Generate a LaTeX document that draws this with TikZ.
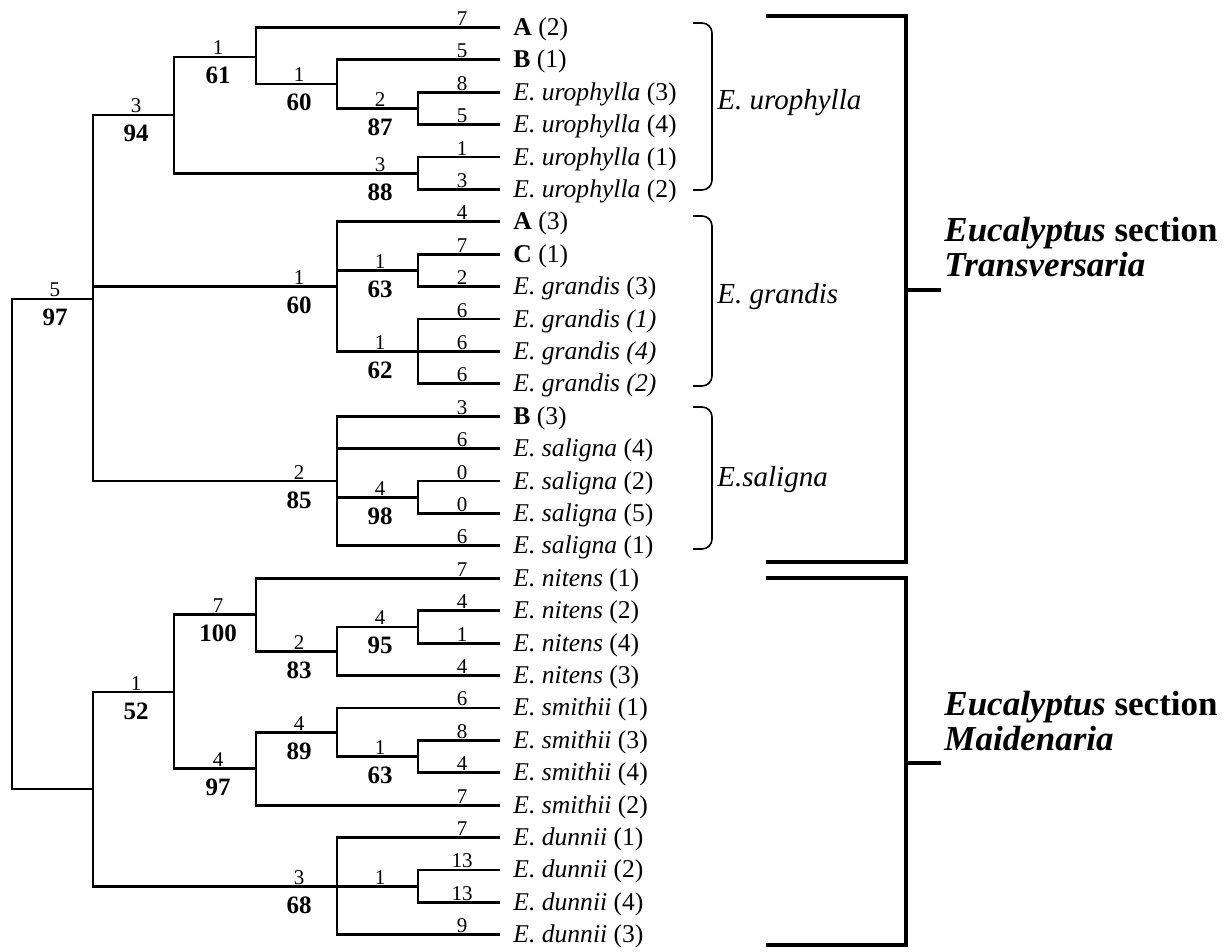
\documentclass[tikz,border=0pt]{standalone}
\usepackage{fontspec}
\setmainfont{Liberation Serif}
\usetikzlibrary{calc}
\tikzset{
  tree/.style    = {line width=1.4pt},
  leaf/.style    = {anchor=base west,inner sep=0pt,
                    font=\fontsize{12.8}{15}\selectfont},
  brlen/.style   = {anchor=base,inner sep=0pt,
                    font=\fontsize{10.5}{12}\selectfont},
  boot/.style    = {anchor=base,inner sep=0pt,
                    font=\fontsize{12.5}{14}\selectfont\bfseries},
  grp/.style     = {line width=0.8pt,rounded corners=5pt},
  grplbl/.style  = {anchor=base west,inner sep=0pt,
                    font=\fontsize{14.5}{17}\selectfont\itshape},
  sect/.style    = {line width=2pt},
  sectlbl/.style = {anchor=base west,align=left,inner sep=1.5pt,
                    font=\fontsize{17.5}{17.5}\selectfont\bfseries},
}
% branch from #1 to #2, length #3 above, bootstrap #4 below
\newcommand{\branch}[4]{%
  \draw[tree] (#1) |- (#2);
  \node[brlen] (#2-len) at ($(#2)+(-38,-2)$) {#3};
  \node[boot]  (#2-bs)  at ($(#2)+(-38,27)$) {#4};
}

\begin{document}
\begin{tikzpicture}[x=0.5pt,y=-0.5pt]
  \useasboundingbox (0,0) rectangle (1228,952);

  % Leaves
  \foreach \i/\txt in {
      0/\textbf{A} (2), 1/\textbf{B} (1),
      2/\textit{E. urophylla} (3), 3/\textit{E. urophylla} (4),
      4/\textit{E. urophylla} (1), 5/\textit{E. urophylla} (2),
      6/\textbf{A} (3), 7/\textbf{C} (1),
      8/\textit{E. grandis} (3), 9/\textit{E. grandis (1)},
      10/\textit{E. grandis (4)}, 11/\textit{E. grandis (2)},
      12/\textbf{B} (3), 13/\textit{E. saligna} (4),
      14/\textit{E. saligna} (2), 15/\textit{E. saligna} (5),
      16/\textit{E. saligna} (1), 17/\textit{E. nitens} (1),
      18/\textit{E. nitens} (2), 19/\textit{E. nitens} (4),
      20/\textit{E. nitens} (3), 21/\textit{E. smithii} (1),
      22/\textit{E. smithii} (3), 23/\textit{E. smithii} (4),
      24/\textit{E. smithii} (2), 25/\textit{E. dunnii} (1),
      26/\textit{E. dunnii} (2), 27/\textit{E. dunnii} (4),
      28/\textit{E. dunnii} (3)}
  {
    \coordinate (t\i) at (500,{27.5+32.4*\i});
    \node[leaf] (l\i) at ($(t\i)+(13,8)$) {\txt};
  }

  % Internal nodes
  \coordinate (root) at (12,544);
  \coordinate (ct)   at (93,299);
  \coordinate (cm)   at (93,789);
  \coordinate (c94)  at (174,115);
  \coordinate (c61)  at (256,57);
  \coordinate (c60a) at (337,84);
  \coordinate (c87)  at (418,108.5);
  \coordinate (c88)  at (418,173.3);
  \coordinate (c60b) at (337,286.7);
  \coordinate (c63a) at (418,270.5);
  \coordinate (c62)  at (418,351.5);
  \coordinate (c85)  at (337,481.1);
  \coordinate (c98)  at (418,497.3);
  \coordinate (c52)  at (174,692);
  \coordinate (c100) at (256,614.8);
  \coordinate (c83)  at (337,651.2);
  \coordinate (c95)  at (418,626.9);
  \coordinate (c97)  at (256,768.6);
  \coordinate (c89)  at (337,732.1);
  \coordinate (c63b) at (418,756.5);
  \coordinate (c68)  at (337,886.1);
  \coordinate (c13)  at (418,886.1);

  % Transversaria part
  \branch{root}{ct}{5}{97}
  \branch{ct}{c94}{3}{94}
  \branch{ct}{c60b}{1}{60}
  \branch{ct}{c85}{2}{85}
  \branch{c94}{c61}{1}{61}
  \branch{c94}{c88}{3}{88}
  \branch{c61}{t0}{7}{}
  \branch{c61}{c60a}{1}{60}
  \branch{c60a}{t1}{5}{}
  \branch{c60a}{c87}{2}{87}
  \branch{c87}{t2}{8}{}
  \branch{c87}{t3}{5}{}
  \branch{c88}{t4}{1}{}
  \branch{c88}{t5}{3}{}
  \branch{c60b}{t6}{4}{}
  \branch{c60b}{c63a}{1}{63}
  \branch{c60b}{c62}{1}{62}
  \branch{c63a}{t7}{7}{}
  \branch{c63a}{t8}{2}{}
  \branch{c62}{t9}{6}{}
  \branch{c62}{t10}{6}{}
  \branch{c62}{t11}{6}{}
  \branch{c85}{t12}{3}{}
  \branch{c85}{t13}{6}{}
  \branch{c85}{c98}{4}{98}
  \branch{c85}{t16}{6}{}
  \branch{c98}{t14}{0}{}
  \branch{c98}{t15}{0}{}

  % Maidenaria part
  \branch{root}{cm}{}{}
  \branch{cm}{c52}{1}{52}
  \branch{cm}{c68}{3}{68}
  \branch{c52}{c100}{7}{100}
  \branch{c52}{c97}{4}{97}
  \branch{c100}{t17}{7}{}
  \branch{c100}{c83}{2}{83}
  \branch{c83}{c95}{4}{95}
  \branch{c83}{t20}{4}{}
  \branch{c95}{t18}{4}{}
  \branch{c95}{t19}{1}{}
  \branch{c97}{c89}{4}{89}
  \branch{c97}{t24}{7}{}
  \branch{c89}{t21}{6}{}
  \branch{c89}{c63b}{1}{63}
  \branch{c63b}{t22}{8}{}
  \branch{c63b}{t23}{4}{}
  \branch{c68}{t25}{7}{}
  \branch{c68}{c13}{1}{}
  \branch{c68}{t28}{9}{}
  \branch{c13}{t26}{13}{}
  \branch{c13}{t27}{13}{}

  % Species brackets
  \draw[grp] (693,23) -- (712,23) -- (712,190) -- (693,190);
  \node[grplbl] (gU) at (717,110) {E. urophylla};
  \draw[grp] (693,216) -- (712,216) -- (712,386) -- (693,386);
  \node[grplbl] (gG) at (717,304) {E. grandis};
  \draw[grp] (693,407) -- (712,407) -- (712,549) -- (693,549);
  \node[grplbl] (gS) at (717,487) {E.saligna};

  % Section brackets
  \draw[sect] (766,16) -- (906,16) -- (906,562) -- (766,562);
  \coordinate (bT) at (906,290);
  \node[sectlbl] (secT) at (941,277)
        {\textit{Eucalyptus} section\\ \textit{Transversaria}};
  \draw[sect] (bT) -- (bT -| secT.west);

  \draw[sect] (766,578) -- (906,578) -- (906,945) -- (766,945);
  \coordinate (bM) at (906,763);
  \node[sectlbl] (secM) at (941,750)
        {\textit{Eucalyptus} section\\ \textit{Maidenaria}};
  \draw[sect] (bM) -- (bM -| secM.west);
\end{tikzpicture}
\end{document}
